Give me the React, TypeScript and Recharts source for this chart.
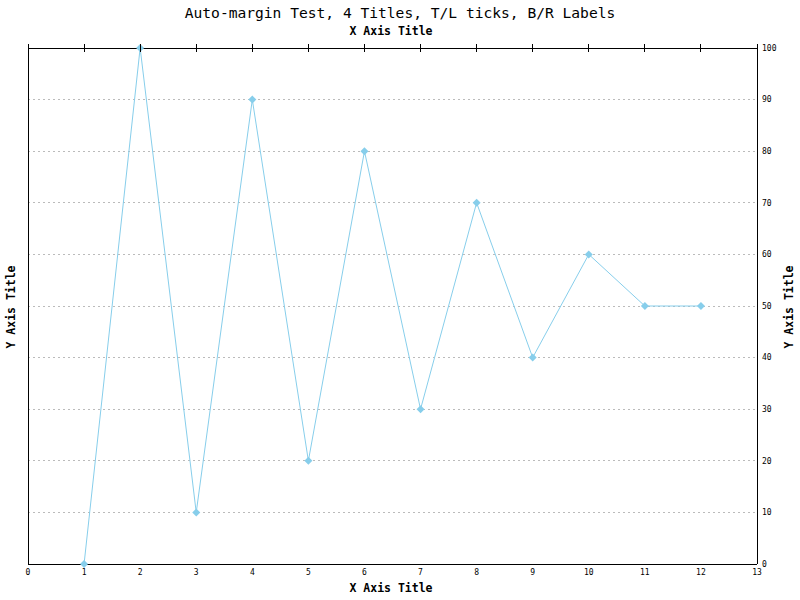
import React from 'react';
import { LineChart, Line, XAxis, YAxis, CartesianGrid } from 'recharts';

const xValues = [1, 2, 3, 4, 5, 6, 7, 8, 9, 10, 11, 12];
const yValues = [0, 100, 10, 90, 20, 80, 30, 70, 40, 60, 50, 50];
const xTicks = [0, 1, 2, 3, 4, 5, 6, 7, 8, 9, 10, 11, 12, 13];
const yTicks = [0, 10, 20, 30, 40, 50, 60, 70, 80, 90, 100];

const data = xValues.map((x, i) => ({ x, y: yValues[i] }));

const MONO = '"DejaVu Sans Mono", "Liberation Mono", monospace';
const LINE_COLOR = '#87ceeb';

const TopTick = (props: any) => {
  const { x, y } = props;
  return <line x1={x} y1={y - 4} x2={x} y2={y + 4} stroke="#000" strokeWidth={1} shapeRendering="crispEdges" />;
};

const LeftTick = (props: any) => {
  const { x, y } = props;
  return <line x1={x - 5} y1={y} x2={x + 4} y2={y} stroke="#000" strokeWidth={1} shapeRendering="crispEdges" />;
};

const Diamond = (props: any) => {
  const { cx, cy } = props;
  if (cx == null || cy == null) return null;
  return (
    <polygon
      points={`${cx},${cy - 4} ${cx + 4},${cy} ${cx},${cy + 4} ${cx - 4},${cy}`}
      fill={LINE_COLOR}
      stroke="none"
    />
  );
};

const tickStyle = { fontFamily: MONO, fontSize: 8, fill: '#000' };
const css = `.recharts-cartesian-axis-line, .recharts-cartesian-grid line { shape-rendering: crispEdges; }`;

export default function App() {
  return (
    <div style={{ position: 'absolute', left: 0, top: 0, width: 800, height: 600, background: '#fff' }}>
      <style>{css}</style>
      <LineChart width={800} height={600} data={data} margin={{ top: 0, right: 0, bottom: 0, left: 0 }}>
        <CartesianGrid
          xAxisId="bottom"
          yAxisId="right"
          vertical={false}
          horizontal
          stroke="#bbbbbb"
          strokeDasharray="2 3"
        />
        <XAxis
          xAxisId="top"
          orientation="top"
          dataKey="x"
          type="number"
          domain={[0, 13]}
          ticks={xTicks}
          height={48}
          tickSize={0}
          tickMargin={0}
          tick={<TopTick />}
          tickLine={false}
          axisLine={{ stroke: '#000', strokeWidth: 1 }}
          interval={0}
        />
        <XAxis
          xAxisId="bottom"
          orientation="bottom"
          dataKey="x"
          type="number"
          domain={[0, 13]}
          ticks={xTicks}
          height={36}
          tickSize={0}
          tickMargin={5}
          tickLine={false}
          tick={tickStyle}
          axisLine={{ stroke: '#000', strokeWidth: 1 }}
          interval={0}
        />
        <YAxis
          yAxisId="left"
          orientation="left"
          type="number"
          domain={[0, 100]}
          ticks={yTicks}
          width={28}
          tickSize={0}
          tickMargin={0}
          tick={<LeftTick />}
          tickLine={false}
          axisLine={{ stroke: '#000', strokeWidth: 1 }}
          interval={0}
        />
        <YAxis
          yAxisId="right"
          orientation="right"
          type="number"
          domain={[0, 100]}
          ticks={yTicks}
          width={43}
          tickSize={0}
          tickMargin={5}
          tickLine={false}
          tick={{ ...tickStyle, textAnchor: 'start' }}
          axisLine={{ stroke: '#000', strokeWidth: 1 }}
          interval={0}
        />
        <Line
          xAxisId="bottom"
          yAxisId="right"
          dataKey="y"
          stroke={LINE_COLOR}
          strokeWidth={1}
          dot={<Diamond />}
          activeDot={false}
          isAnimationActive={false}
          type="linear"
        />
      </LineChart>
      <div style={{ position: 'absolute', left: 0, top: 4, width: 800, textAlign: 'center', fontFamily: MONO, fontSize: 14.6, lineHeight: '18px', color: '#000' }}>
        Auto-margin Test, 4 Titles, T/L ticks, B/R Labels
      </div>
      <div style={{ position: 'absolute', left: 0, top: 24, width: 782, textAlign: 'center', fontFamily: MONO, fontSize: 11.5, fontWeight: 'bold', lineHeight: '14px', color: '#000' }}>
        X Axis Title
      </div>
      <div style={{ position: 'absolute', left: 0, top: 581, width: 782, textAlign: 'center', fontFamily: MONO, fontSize: 11.5, fontWeight: 'bold', lineHeight: '14px', color: '#000' }}>
        X Axis Title
      </div>
      <div style={{ position: 'absolute', left: 11 - 60, top: 307 - 7, width: 120, textAlign: 'center', fontFamily: MONO, fontSize: 11.5, fontWeight: 'bold', lineHeight: '14px', color: '#000', transform: 'rotate(-90deg)' }}>
        Y Axis Title
      </div>
      <div style={{ position: 'absolute', left: 789 - 60, top: 307 - 7, width: 120, textAlign: 'center', fontFamily: MONO, fontSize: 11.5, fontWeight: 'bold', lineHeight: '14px', color: '#000', transform: 'rotate(-90deg)' }}>
        Y Axis Title
      </div>
    </div>
  );
}
